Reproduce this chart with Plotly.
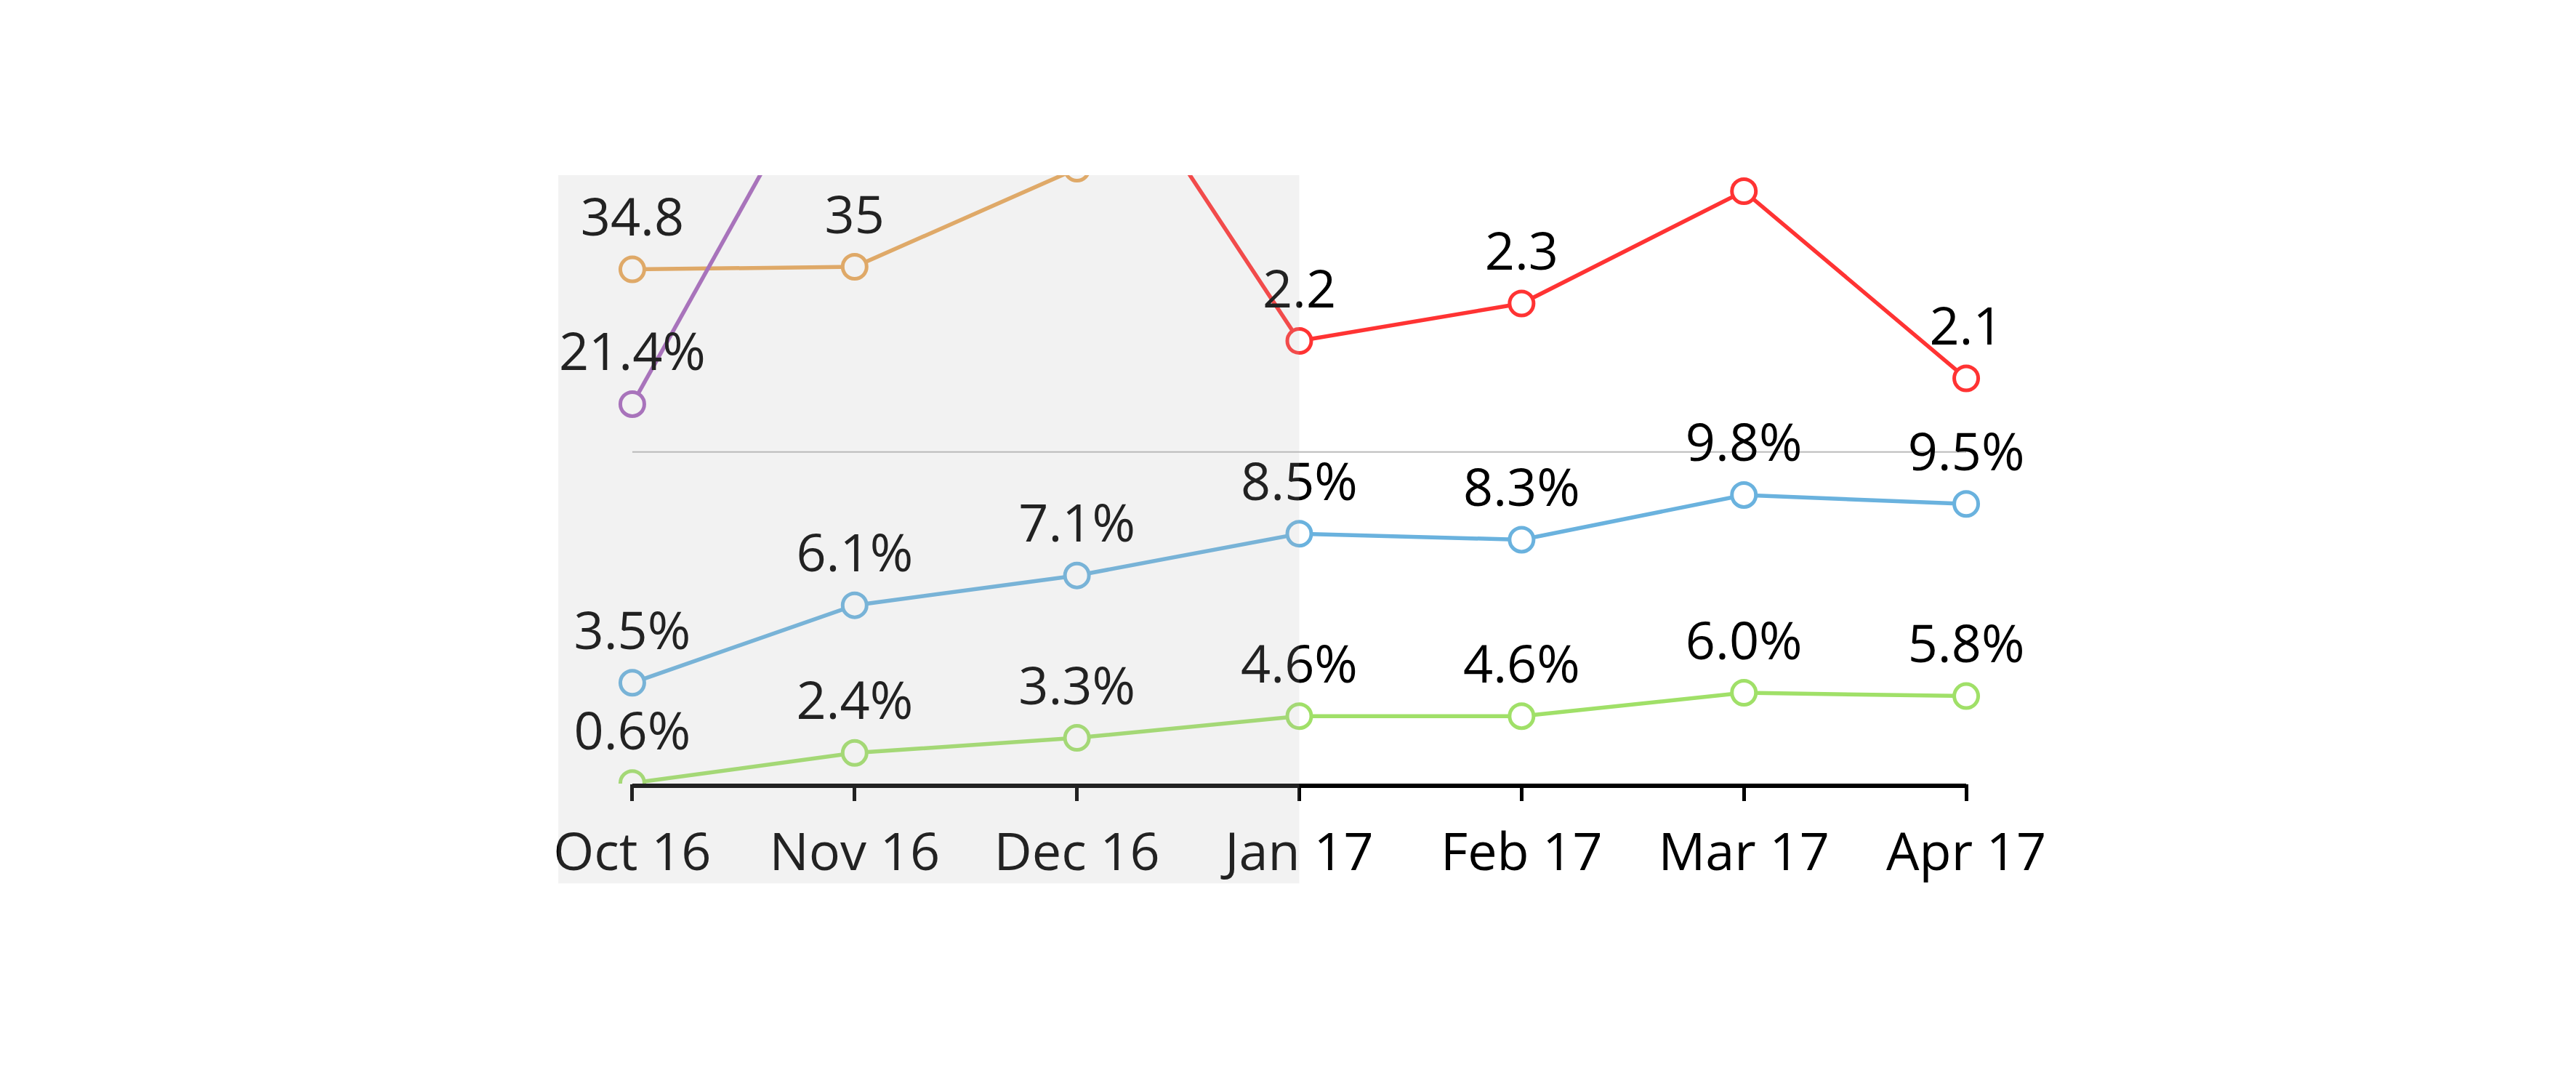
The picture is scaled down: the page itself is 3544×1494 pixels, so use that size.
import plotly.graph_objects as go

# months on the x axis
months = ['Oct 16', 'Nov 16', 'Dec 16', 'Jan 17', 'Feb 17', 'Mar 17', 'Apr 17']

# series values (only the points that reach into the chart)
orange_months = ['Oct 16', 'Nov 16', 'Dec 16']
orange_vals = [34.8, 35.0, 42.5]
orange_text = ['34.8', '35', '']          # points off the top carry no label

purple_months = ['Oct 16', 'Nov 16']
purple_vals = [21.4, 40.0]
purple_text = ['21.4%', '']

red_months = ['Dec 16', 'Jan 17', 'Feb 17', 'Mar 17', 'Apr 17']
red_vals = [3.1, 2.2, 2.3, 2.6, 2.1]
red_text = ['', '2.2', '2.3', '', '2.1']

blue_vals = [3.5, 6.1, 7.1, 8.5, 8.3, 9.8, 9.5]
blue_text = [f'{v:.1f}%' for v in blue_vals]
green_vals = [0.6, 2.4, 3.3, 4.6, 4.6, 6.0, 5.8]
green_text = [f'{v:.1f}%' for v in green_vals]

FONT = 'Open Sans'
FS = 72

series = [
    # x, y, labels, colour, axis
    (orange_months, orange_vals, orange_text, '#E8A656', 'y4'),
    (purple_months, purple_vals, purple_text, '#A564BC', 'y5'),
    (red_months, red_vals, red_text, '#FF3333', 'y3'),
    (months, blue_vals, blue_text, '#6AB2DE', 'y'),
    (months, green_vals, green_text, '#A0E068', 'y2'),
]

fig = go.Figure()

# lines with hollow markers
for xs, ys, labels, col, ax in series:
    fig.add_trace(go.Scatter(
        x=xs, y=ys, yaxis=ax, mode='lines+markers',
        line=dict(color=col, width=5.5),
        marker=dict(size=33, color='white', line=dict(color=col, width=5)),
        hoverinfo='skip', showlegend=False))

# value labels above each point (invisible bigger marker gives the offset)
for xs, ys, labels, col, ax in series:
    fig.add_trace(go.Scatter(
        x=xs, y=ys, yaxis=ax, mode='markers+text', text=labels,
        textposition='top center',
        textfont=dict(family=FONT, size=FS, color='#000000'),
        marker=dict(size=44, opacity=0),
        hoverinfo='skip', showlegend=False))

hidden = dict(visible=False, overlaying='y', fixedrange=True)

fig.update_layout(
    width=3544, height=1494,
    margin=dict(l=709, r=694, t=233, b=424),
    paper_bgcolor='white', plot_bgcolor='white',
    font=dict(family=FONT, size=FS, color='#000000'),
    xaxis=dict(type='category', categoryorder='array', categoryarray=months,
               range=[-0.5, 6.5], showgrid=False, zeroline=False, showline=False,
               ticks='outside', ticklen=23, tickwidth=5, tickcolor='#000000',
               ticklabelstandoff=9,
               tickfont=dict(family=FONT, size=FS, color='#000000')),
    yaxis=dict(visible=False, range=[0.117, 20.53], fixedrange=True),
    yaxis2=dict(hidden, range=[0.565, 36.96]),
    yaxis3=dict(hidden, range=[1.0175, 2.6427]),
    yaxis4=dict(hidden, range=[-4.5, 42.0]),
    yaxis5=dict(hidden, range=[3.68, 32.09]),
    shapes=[
        # thin separator line
        dict(type='line', xref='x', yref='paper', x0=0, x1=6, y0=0.545, y1=0.545,
             line=dict(color='#BBBBBB', width=2), layer='below'),
        # x axis baseline, Oct to Apr only
        dict(type='line', xref='x', yref='paper', x0=0, x1=6, y0=-0.0035, y1=-0.0035,
             line=dict(color='#000000', width=6), layer='above'),
        # shaded earlier months
        dict(type='rect', xref='x', yref='paper', x0=-0.333, x1=3, y0=-0.164, y1=1,
             fillcolor='rgba(185,185,185,0.185)', line=dict(width=0), layer='above'),
    ],
)

fig.write_html('out.html')
